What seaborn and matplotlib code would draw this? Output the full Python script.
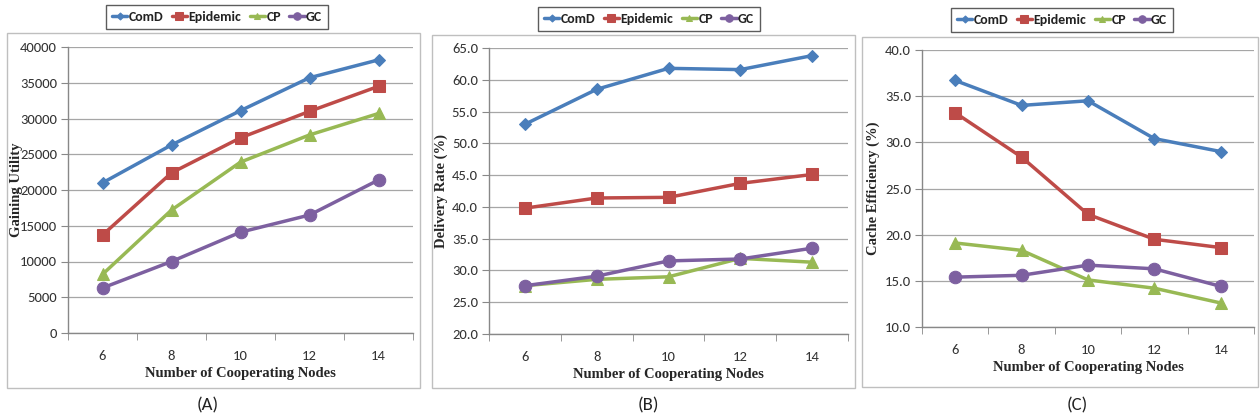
import numpy as np
import pandas as pd
import matplotlib
matplotlib.use("Agg")
import matplotlib.pyplot as plt
from matplotlib.patches import Rectangle
from matplotlib.ticker import FixedLocator
import seaborn as sns
import logging
logging.getLogger("matplotlib.font_manager").setLevel(logging.ERROR)

nodes = [6, 8, 10, 12, 14]
methods = ["ComD", "Epidemic", "CP", "GC"]

utility_comd = [21000, 26300, 31100, 35700, 38200]
utility_epidemic = [13700, 22400, 27300, 31000, 34500]
utility_cp = [8200, 17200, 23900, 27700, 30700]
utility_gc = [6300, 10000, 14100, 16500, 21400]

delivery_comd = [53.0, 58.5, 61.8, 61.6, 63.8]
delivery_epidemic = [39.8, 41.4, 41.5, 43.7, 45.1]
delivery_cp = [27.6, 28.6, 29.0, 31.9, 31.3]
delivery_gc = [27.6, 29.1, 31.5, 31.8, 33.5]

cache_comd = [36.7, 34.0, 34.5, 30.4, 29.0]
cache_epidemic = [33.2, 28.4, 22.2, 19.5, 18.6]
cache_cp = [19.1, 18.3, 15.1, 14.2, 12.6]
cache_gc = [15.4, 15.6, 16.7, 16.3, 14.4]

ylabels = ["Gaining Utility", "Delivery Rate (%)", "Cache Efficiency (%)"]
xlabel = "Number of Cooperating Nodes"
captions = ["(A)", "(B)", "(C)"]

palette = {"ComD": "#4A7EBB", "Epidemic": "#BE4B48", "CP": "#98B954", "GC": "#7D60A0"}
markers = {"ComD": "D", "Epidemic": "s", "CP": "^", "GC": "o"}
msizes = {"ComD": 6, "Epidemic": 9, "CP": 8, "GC": 9}


def make_df(series):
    rows = []
    for m, vals in zip(methods, series):
        for n, v in zip(nodes, vals):
            rows.append({"nodes": n, "value": v, "method": m})
    return pd.DataFrame(rows)


panels = [
    dict(df=make_df([utility_comd, utility_epidemic, utility_cp, utility_gc]),
         ylim=(0, 40000), ystep=5000, fmt="{:.0f}",
         ax=(68, 413, 47, 333), border=(7, 420, 33, 388),
         legend=(217, 17), cap=(208, 405), ylx=23),
    dict(df=make_df([delivery_comd, delivery_epidemic, delivery_cp, delivery_gc]),
         ylim=(20, 65), ystep=5, fmt="{:.1f}",
         ax=(489, 848, 48, 334), border=(432, 855, 35, 388),
         legend=(649, 19), cap=(648, 405), ylx=448),
    dict(df=make_df([cache_comd, cache_epidemic, cache_cp, cache_gc]),
         ylim=(10, 40), ystep=5, fmt="{:.1f}",
         ax=(922, 1254, 50, 327), border=(862, 1258, 37, 387),
         legend=(1062, 20), cap=(1077, 405), ylx=880),
]

sns.set_style("white")
W, H = 1260, 420
fig = plt.figure(figsize=(12.6, 4.2), dpi=100)
fig.patch.set_facecolor("white")

sans = ["Carlito", "Lato", "DejaVu Sans"]
serif = ["Liberation Serif", "DejaVu Serif"]

for i, p in enumerate(panels):
    l, r, t, b = p["ax"]
    ax = fig.add_axes([l / W, 1 - b / H, (r - l) / W, (b - t) / H])
    bl, br, bt, bb = p["border"]
    fig.patches.append(Rectangle((bl / W, 1 - bb / H), (br - bl) / W, (bb - bt) / H,
                                 transform=fig.transFigure, fill=False,
                                 edgecolor="#BFBFBF", linewidth=1.0, zorder=0))
    df = p["df"]
    for m in methods:
        sub = df[df["method"] == m]
        sns.lineplot(data=sub, x="nodes", y="value", color=palette[m], marker=markers[m],
                     markersize=msizes[m], markeredgecolor=palette[m], linewidth=2.5,
                     ax=ax, label=m)
    ax.set_xlim(5, 15)
    ax.set_ylim(*p["ylim"])
    yt = np.arange(p["ylim"][0], p["ylim"][1] + p["ystep"] / 2, p["ystep"])
    ax.set_yticks(yt)
    ax.set_yticklabels([p["fmt"].format(v) for v in yt], fontfamily=sans, fontsize=10.5, color="#333333")
    ax.set_xticks(nodes)
    ax.set_xticklabels([str(n) for n in nodes], fontfamily=sans, fontsize=10.5, color="#333333")
    ax.xaxis.set_minor_locator(FixedLocator([5, 7, 9, 11, 13, 15]))
    ax.tick_params(axis="x", which="major", length=0, pad=12)
    ax.tick_params(axis="x", which="minor", length=5, color="#888888", direction="out", bottom=True)
    ax.tick_params(axis="y", which="major", length=5, color="#888888", direction="out", left=True, pad=3)
    ax.grid(axis="y", color="#A6A6A6", linewidth=0.9)
    ax.grid(axis="x", visible=False)
    ax.set_axisbelow(True)
    for s in ["top", "right"]:
        ax.spines[s].set_visible(False)
    for s in ["left", "bottom"]:
        ax.spines[s].set_color("#888888")
        ax.spines[s].set_linewidth(1.0)
    ax.set_xlabel(xlabel, fontfamily=serif, fontweight="bold", fontsize=10.5, labelpad=4)
    ax.set_ylabel(ylabels[i], fontfamily=serif, fontweight="bold", fontsize=10.5)
    ax.yaxis.set_label_coords(p["ylx"] / W, 0.5 * ((1 - b / H) + (1 - t / H)), transform=fig.transFigure)
    lx, ly = p["legend"]
    leg = ax.legend(loc="center", bbox_to_anchor=(lx / W, 1 - ly / H), bbox_transform=fig.transFigure,
                    ncol=4, frameon=True, fancybox=False, edgecolor="#333333",
                    handlelength=1.1, handletextpad=0.1, columnspacing=0.6, borderpad=0.45,
                    prop={"family": sans, "size": 10, "weight": "bold"}, markerscale=0.6)
    leg.get_frame().set_linewidth(1.0)
    for txt in leg.get_texts():
        txt.set_color("#222222")
    cx, cy = p["cap"]
    fig.text(cx / W, 1 - cy / H, captions[i], ha="center", va="center", fontsize=13.5,
             fontfamily=sans, color="#222222")

fig.savefig("out.png", dpi=100, facecolor="white")
